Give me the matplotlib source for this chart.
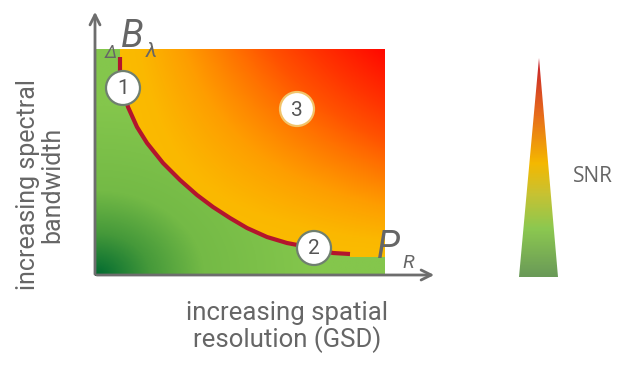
import numpy as np
import matplotlib.pyplot as plt
from matplotlib.colors import LinearSegmentedColormap
from matplotlib.patches import Polygon, Circle

# trade-off curve (pixel coordinates)
curve_x = [120, 120, 123, 128, 137, 147, 163, 180, 197, 213, 230, 247, 267, 287, 313, 333, 350]
curve_y = [57, 72, 90, 107, 127, 143, 163, 180, 195, 207, 218, 228, 237, 243, 248, 253, 254]

# numbered markers
marker_labels = ['1', '2', '3']
marker_x = [123, 314, 297]
marker_y = [88, 248, 109]

box = (95, 385, 49, 276)  # left, right, top, bottom
snr_apex = (539, 58)
snr_base = (519, 558, 277)

gray = '#666666'
cond = ['Roboto', 'DejaVu Sans']

fig = plt.figure(figsize=(6.27, 3.67), dpi=100)
ax = fig.add_axes([0, 0, 1, 1])
ax.set_xlim(0, 627)
ax.set_ylim(367, 0)
ax.axis('off')

l, r, t, b = box
X, Y = np.meshgrid(np.linspace(l, r, 300), np.linspace(t, b, 240))
xn = (X - l) / (r - l)
yn = (b - Y) / (b - t)

# green part: dark in the lower-left corner
greens = LinearSegmentedColormap.from_list('g', [(0.0, '#006a30'), (0.25, '#45993a'),
                                                (0.5, '#74ba46'), (1.0, '#84c64c')])
d = np.clip(np.sqrt(xn ** 2 + yn ** 2) / 0.75, 0, 1)
ax.imshow(greens(d), extent=(l, r, b, t), origin='upper', aspect='auto', zorder=1)

# orange/red part above the curve, contours follow the curve
warm = LinearSegmentedColormap.from_list('w', [(0.0, '#f9c000'), (0.15, '#fbb800'),
                                              (0.3, '#fe9e00'), (0.47, '#ff7400'),
                                              (0.6, '#ff5200'), (0.75, '#ff3400'),
                                              (1.0, '#ff0800')])
s = np.clip(xn * yn, 0, 1)
im = ax.imshow(warm(s), extent=(l, r, b, t), origin='upper', aspect='auto', zorder=2)
poly = [(curve_x[0], t), (r, t), (r, 257), (curve_x[-1], 257)]
poly += list(zip(curve_x[::-1], curve_y[::-1]))
clip = Polygon(poly, closed=True, transform=ax.transData, facecolor='none', edgecolor='none')
ax.add_patch(clip)
im.set_clip_path(clip)

ax.plot(curve_x, curve_y, color='#b3152d', lw=3, solid_capstyle='butt', zorder=4)

for lab, mx, my in zip(marker_labels, marker_x, marker_y):
    ec = '#f2c46a' if lab == '3' else '#6f7f6f'
    ax.add_patch(Circle((mx, my), 17, facecolor='white', edgecolor=ec, lw=1.6, zorder=5))
    ax.text(mx, my + 1, lab, ha='center', va='center', fontsize=15, color='#555555',
            family=cond, zorder=6)

# axes arrows
ax.annotate('', xy=(95, 9), xytext=(95, 277),
            arrowprops=dict(arrowstyle='->', color='#6d6d6d', lw=2, mutation_scale=18), zorder=3)
ax.annotate('', xy=(437, 275), xytext=(94, 275),
            arrowprops=dict(arrowstyle='->', color='#6d6d6d', lw=2, mutation_scale=18), zorder=3)

ax.text(105, 58, '\u0394', fontsize=13, color=gray, style='italic', family=cond, va='baseline')
ax.text(121, 47, 'B', fontsize=27, color=gray, style='italic', family=cond, va='baseline')
ax.text(146, 57, '\u03bb', fontsize=15, color=gray, style='italic', family=cond, va='baseline')
ax.text(377, 258, 'P', fontsize=27, color=gray, style='italic', family=cond, va='baseline')
ax.text(402, 268, 'R', fontsize=14, color=gray, style='italic', family=cond, va='baseline')

ax.text(40, 185, 'increasing spectral\nbandwidth', rotation=90, ha='center', va='center',
        multialignment='center', fontsize=18, color=gray, family=cond, linespacing=1.0)
ax.text(287, 327, 'increasing spatial\nresolution (GSD)', ha='center', va='center',
        multialignment='center', fontsize=18.5, color=gray, family=cond, linespacing=1.05)

# SNR wedge
ax_, ay_ = snr_apex
bl, br, bb = snr_base
snr_cmap = LinearSegmentedColormap.from_list('snr', [(0.0, '#c61f2c'), (0.25, '#e66a1c'),
                                                    (0.48, '#f5b800'), (0.62, '#c8c232'),
                                                    (0.78, '#8cc850'), (1.0, '#6a9a58')])
grad = np.linspace(0, 1, 200)[:, None] * np.ones((1, 10))
sim = ax.imshow(snr_cmap(grad), extent=(bl, br, bb, ay_), origin='upper', aspect='auto', zorder=2)
tri = Polygon([(ax_, ay_), (br, bb), (bl, bb)], closed=True, transform=ax.transData,
              facecolor='none', edgecolor='none')
ax.add_patch(tri)
sim.set_clip_path(tri)
ax.text(573, 177, 'SNR', fontsize=15, color=gray, family='Open Sans', va='center')

fig.savefig('out.png', dpi=100)
